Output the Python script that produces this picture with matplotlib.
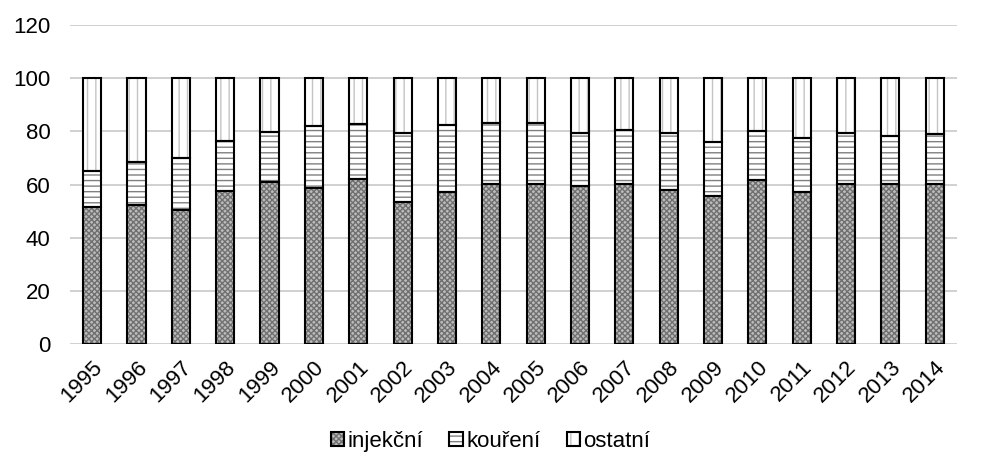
import matplotlib
matplotlib.use('Agg')
import matplotlib.pyplot as plt
import numpy as np
from matplotlib.legend_handler import HandlerTuple

years = [str(y) for y in range(1995, 2015)]
injekcni = [51.5, 52.5, 50.6, 57.7, 61.0, 58.7, 62.2, 53.5, 57.2, 60.3,
            60.4, 59.3, 60.3, 58.1, 55.6, 61.7, 57.1, 60.4, 60.4, 60.3]
koureni_top = [65.1, 68.4, 70.0, 76.4, 79.9, 82.1, 82.7, 79.3, 82.3, 83.3,
               83.0, 79.6, 80.4, 79.3, 75.9, 80.0, 77.6, 79.6, 78.4, 79.1]
koureni = [k - i for k, i in zip(koureni_top, injekcni)]
ostatni = [100 - k for k in koureni_top]

plt.rcParams['font.family'] = ['Liberation Sans', 'DejaVu Sans']
plt.rcParams['hatch.linewidth'] = 1.0

fig = plt.figure(figsize=(9.81, 4.74), dpi=100)
ax = fig.add_axes([0.0714, 0.274, 0.904, 0.673])

x = np.arange(len(years))
w = 0.41
fs = 16

series = [
    ('injekční', injekcni, '#bcbcbc', '#707070', 'xxxxxx'),
    ('kouření', koureni, 'white', '#808080', '---'),
    ('ostatní', ostatni, 'white', '#c4c4c4', '||'),
]

handles = []
bottom = np.zeros(len(years))
for name, vals, fc, hc, hatch in series:
    vals = np.array(vals)
    hb = ax.bar(x, vals, w, bottom=bottom, color=fc, edgecolor=hc,
                hatch=hatch, linewidth=0, zorder=2)
    ob = ax.bar(x, vals, w, bottom=bottom, fill=False, edgecolor='black',
                linewidth=1.5, zorder=3)
    handles.append((hb, ob))
    bottom += vals

ax.set_ylim(0, 120)
ax.set_yticks(range(0, 121, 20))
ax.set_xlim(-0.5, len(years) - 0.5)
ax.set_xticks(x)
ax.set_xticklabels(years, rotation=45, ha='right', rotation_mode='anchor')
ax.tick_params(axis='both', length=0, labelsize=fs, colors='black')
ax.tick_params(axis='y', pad=14)
ax.tick_params(axis='x', pad=9)
ax.grid(axis='y', color='#c8c8c8', linewidth=1.2, zorder=0)
ax.set_axisbelow(True)
for s in ax.spines.values():
    s.set_visible(False)

fig.legend(handles, [s[0] for s in series], loc='center',
           bbox_to_anchor=(0.5, 0.068), ncol=3, frameon=False,
           fontsize=fs, handler_map={tuple: HandlerTuple(ndivide=1)},
           handlelength=0.6, handleheight=0.6, handletextpad=0.15,
           columnspacing=1.2)

fig.savefig('out.png', dpi=100)
